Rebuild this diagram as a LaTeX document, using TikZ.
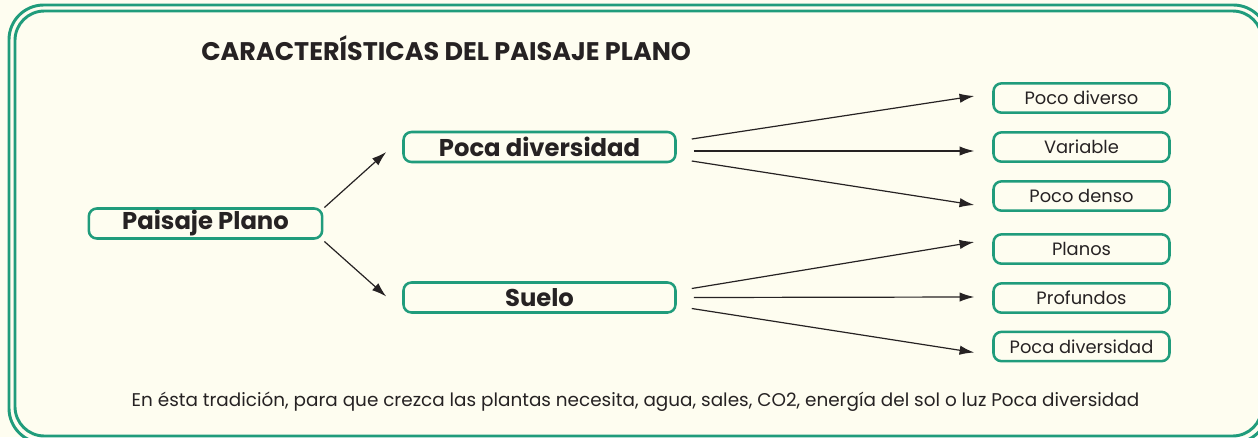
\documentclass[tikz,border=0pt]{standalone}
\usepackage{fontspec}
\setmainfont{Poppins}
\usetikzlibrary{arrows.meta}
\usetikzlibrary{positioning}
\definecolor{verde}{RGB}{32,156,124}
\definecolor{crema}{RGB}{254,253,240}
\definecolor{tinta}{RGB}{38,34,35}

\begin{document}
\begin{tikzpicture}[x=0.75pt,y=-0.75pt,
    caja/.style={draw=verde, line width=1.9pt, rounded corners=6pt, fill=crema, inner sep=0pt, text=tinta},
    hoja/.style={caja, minimum width=132pt, minimum height=22pt, font=\fontsize{13.4}{15}\selectfont},
    rama/.style={caja, minimum width=204pt, minimum height=22.5pt, font=\fontsize{18.2}{20}\selectfont\bfseries},
    flecha/.style={draw=tinta, line width=0.9pt, -{Latex[length=11pt,width=7pt]}}]
    % fondo y marco doble
    \fill[crema] (0,0) rectangle (1258,437);
    \useasboundingbox (0,0) rectangle (1258,437);
    \draw[verde, line width=2.2pt, rounded corners=26pt] (9,5) rectangle (1268,443);
    \draw[verde, line width=2.2pt, rounded corners=22pt] (15,11) rectangle (1262,436);
    % titulo
    \node[anchor=west, inner sep=0pt, text=tinta, font=\fontsize{19.1}{21}\selectfont\bfseries] (titulo) at (201,48) {CARACTERÍSTICAS DEL PAISAJE PLANO};
    % nodos
    \node[caja, minimum width=175pt, minimum height=22.5pt, font=\fontsize{18.2}{20}\selectfont\bfseries] (paisaje) at (205.5,223.5) {Paisaje Plano};
    \node[rama] (poca) at (539.5,147) {Poca diversidad};
    \node[rama] (suelo) at (539.5,297.5) {Suelo};
    \node[hoja] (diverso) at (1081.5,98) {Poco diverso};
    \node[hoja] (variable) at (1081.5,147) {Variable};
    \node[hoja] (denso) at (1081.5,196) {Poco denso};
    \node[hoja] (planos) at (1081.5,249) {Planos};
    \node[hoja] (profundos) at (1081.5,298) {Profundos};
    \node[hoja] (diversidad) at (1081.5,346.5) {Poca diversidad};
    % flechas
    \draw[flecha] ([shift={(1,-16)}]paisaje.east) -- ([shift={(-16,5)}]poca.west);
    \draw[flecha] ([shift={(1,18)}]paisaje.east) -- ([shift={(-16,-1)}]suelo.west);
    \draw[flecha] ([shift={(15,-8)}]poca.east) -- ([shift={(-18,-2)}]diverso.west);
    \draw[flecha] ([shift={(17,4)}]poca.east) -- ([shift={(-18,4)}]variable.west);
    \draw[flecha] ([shift={(15,14)}]poca.east) -- ([shift={(-18,9)}]denso.west);
    \draw[flecha] ([shift={(15,-9)}]suelo.east) -- ([shift={(-18,-7)}]planos.west);
    \draw[flecha] ([shift={(17,0)}]suelo.east) -- ([shift={(-18,-1)}]profundos.west);
    \draw[flecha] ([shift={(15,11)}]suelo.east) -- ([shift={(-18,6)}]diversidad.west);
    % nota
    \node[inner sep=0pt, text=tinta, font=\fontsize{13.8}{15}\selectfont] (nota) at (635.5,402) {En ésta tradición, para que crezca las plantas necesita, agua, sales, CO2, energía del sol o luz Poca diversidad};
\end{tikzpicture}
\end{document}
